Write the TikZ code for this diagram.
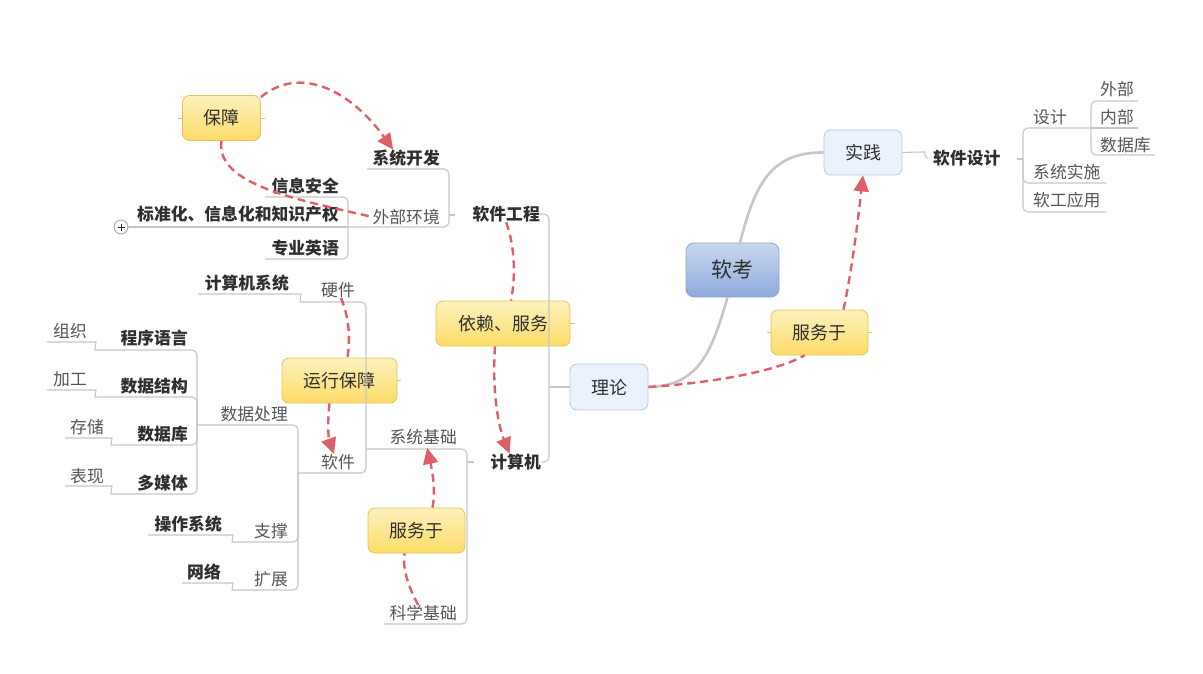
\documentclass[tikz,border=0pt]{standalone}
\usepackage{fontspec}
\setmainfont{Noto Sans CJK SC}
\usetikzlibrary{arrows.meta}
\definecolor{treecol}{HTML}{C6C6C6}
\definecolor{relcol}{HTML}{DE5F68}
\definecolor{ybord}{HTML}{E2C35A}
\definecolor{ytop}{HTML}{FDF2BE}
\definecolor{ybot}{HTML}{FDDB66}
\definecolor{bfill}{HTML}{EAF2FD}
\definecolor{bbord}{HTML}{BEC8D6}
\definecolor{rtop}{HTML}{C8D8F1}
\definecolor{rbot}{HTML}{8DAADC}
\definecolor{rbord}{HTML}{8EA5CC}
\definecolor{txtb}{HTML}{2E2E2E}
\definecolor{txtn}{HTML}{555555}
\tikzset{
 ybox/.style={draw=ybord, line width=0.8pt, top color=ytop, bottom color=ybot, rounded corners=7pt, minimum height=45pt, text=txtb, font=\fontsize{18}{20}\selectfont, inner sep=0pt},
 bbox/.style={draw=bbord, line width=0.8pt, fill=bfill, rounded corners=7pt, minimum width=78pt, minimum height=45pt, text=txtb, font=\fontsize{18}{20}\selectfont, inner sep=0pt},
 rootbox/.style={draw=rbord, line width=0.8pt, top color=rtop, bottom color=rbot, rounded corners=8pt, minimum width=93pt, minimum height=54pt, text=txtb, font=\fontsize{21}{24}\selectfont, inner sep=0pt},
 lbold/.style={inner sep=0pt, text=txtb, font=\fontsize{16.8}{18}\selectfont\bfseries},
 lnorm/.style={inner sep=0pt, text=txtn, font=\fontsize{16.8}{18}\selectfont},
 tree/.style={draw=treecol, line width=1.1pt, rounded corners=5pt},
 rootln/.style={draw=treecol, line width=2.6pt},
 rel/.style={draw=relcol, line width=2.4pt, dash pattern=on 8pt off 5pt},
 relarr/.style={rel, -{Triangle[length=16pt,width=15pt]}},
 ytick/.style={draw=ybord, line width=1pt},
}
\begin{document}
\begin{tikzpicture}[x=1pt,y=-1pt]
\useasboundingbox (0,0) rectangle (1203,673);

% ---------- boxes ----------
\node[rootbox] (root) at (732.5,270) {软考};
\node[bbox] (shijian) at (863,152.5) {实践};
\node[bbox, minimum height=46pt] (lilun) at (609,387) {理论};
\node[ybox, minimum width=78pt] (baozhang) at (221.5,118) {保障};
\node[ybox, minimum width=134pt] (yilai) at (503,323.5) {依赖、服务};
\node[ybox, minimum width=115pt] (yunxing) at (339.5,380.5) {运行保障};
\node[ybox, minimum width=97pt] (fuwuL) at (416.5,530.5) {服务于};
\node[ybox, minimum width=97pt] (fuwuR) at (819.5,332.5) {服务于};

% small ticks on floating boxes
\draw[ytick] (baozhang.west) -- ++(-4,0);
\draw[ytick] (baozhang.east) -- ++(4,0);
\draw[ytick] (yilai.east) -- ++(5,0);
\draw[ytick] (yunxing.east) -- ++(4,0);
\draw[ytick] (fuwuR.west) -- ++(-4,0);
\draw[ytick] (fuwuR.east) -- ++(4,0);

% ---------- labels ----------
\node[lbold, anchor=east] (rjgc) at (540,214) {软件工程};
\node[lbold, anchor=east] (jsj) at (541,462) {计算机};
\node[lbold, anchor=east] (xtkf) at (440,158) {系统开发};
\node[lnorm, anchor=east] (wbhj) at (440,217) {外部环境};
\node[lbold, anchor=east] (xxaq) at (339,186) {信息安全};
\node[lbold, anchor=east] (bzh) at (339,214) {标准化、信息化和知识产权};
\node[lbold, anchor=east] (zyyy) at (339,248) {专业英语};
\node[lnorm, anchor=east] (xtjc) at (457,437) {系统基础};
\node[lnorm, anchor=east] (kxjc) at (457,613) {科学基础};
\node[lnorm, anchor=east] (yj) at (355,290) {硬件};
\node[lnorm, anchor=east] (rj) at (355,462) {软件};
\node[lbold, anchor=east] (jsjxt) at (289,283) {计算机系统};
\node[lnorm, anchor=east] (sjcl) at (288,414) {数据处理};
\node[lnorm, anchor=east] (zc) at (288,531) {支撑};
\node[lnorm, anchor=east] (kz) at (288,579) {扩展};
\node[lbold, anchor=east] (czxt) at (222,524) {操作系统};
\node[lbold, anchor=east] (wl) at (221,572) {网络};
\node[lbold, anchor=east] (cxyy) at (188,338) {程序语言};
\node[lbold, anchor=east] (sjjg) at (188,386) {数据结构};
\node[lbold, anchor=east] (sjkL) at (188,434) {数据库};
\node[lbold, anchor=east] (dmt) at (188,483) {多媒体};
\node[lnorm, anchor=west] (zz) at (53,331) {组织};
\node[lnorm, anchor=west] (jg) at (53,379) {加工};
\node[lnorm, anchor=west] (cc) at (70,427) {存储};
\node[lnorm, anchor=west] (bx) at (70,476) {表现};
\node[lbold, anchor=west] (rjsj) at (933,158) {软件设计};
\node[lnorm, anchor=west] (sj) at (1033,117) {设计};
\node[lnorm, anchor=west] (wb) at (1100,89) {外部};
\node[lnorm, anchor=west] (nb) at (1100,117) {内部};
\node[lnorm, anchor=west] (sjkR) at (1100,145) {数据库};
\node[lnorm, anchor=west] (xtss) at (1033,172) {系统实施};
\node[lnorm, anchor=west] (rgyy) at (1033,200) {软工应用};
\node[circle, draw=treecol!85!black, fill=white, line width=0.9pt, minimum size=14pt, inner sep=0pt] (plus) at (121,227) {};
\draw[draw=txtb, line width=1pt] ([xshift=-3.5pt]plus.center) -- ([xshift=3.5pt]plus.center);
\draw[draw=txtb, line width=1pt] ([yshift=-3.5pt]plus.center) -- ([yshift=3.5pt]plus.center);

% ---------- junction coordinates ----------
\coordinate (jL) at (549,387);
\coordinate (jRt) at (455,215);
\coordinate (jR) at (449,215);
\coordinate (u-xtkf) at (367,169);
\coordinate (j-wbhj) at (348,227);
\coordinate (u-xxaq) at (265,197);
\coordinate (u-zyyy) at (265,259);
\coordinate (t-jsj) at (474,462);
\coordinate (j-jsj) at (467,462);
\coordinate (j-xtjc) at (366,449);
\coordinate (u-kxjc) at (384,624);
\coordinate (h-yj) at (305,302);
\coordinate (u-jsjxt) at (198,294);
\coordinate (j-rj) at (298,473);
\coordinate (j-sjcl) at (197,425);
\coordinate (h-zc) at (237,542);
\coordinate (u-czxt) at (148,535);
\coordinate (h-kz) at (237,590);
\coordinate (u-wl) at (182,583);
\coordinate (h-cxyy) at (100,350);
\coordinate (u-zz) at (47,342);
\coordinate (h-sjjg) at (100,397);
\coordinate (u-jg) at (47,390);
\coordinate (h-sjk) at (116,445);
\coordinate (u-cc) at (65,438);
\coordinate (h-dmt) at (116,494);
\coordinate (u-bx) at (65,486);
\coordinate (h-sjp) at (920,152);
\coordinate (e-sjp) at (928,158);
\coordinate (t-rjsj) at (1017,159);
\coordinate (j-rjsj) at (1023,159);
\coordinate (j-sj) at (1091,128);
\coordinate (u-xtss) at (1106,183);
\coordinate (u-rgyy) at (1106,212);
\coordinate (u-wb) at (1138,101);
\coordinate (u-nb) at (1138,128);
\coordinate (u-sjk) at (1155,155);

% ---------- root curves ----------
\draw[rootln] ([xshift=7.5pt]root.north) .. controls (755,185) and (770,152) .. (shijian.west);
\draw[rootln] ([xshift=-5pt]root.south) .. controls (712,350) and (700,386) .. (lilun.east);

% ---------- tree lines ----------
\draw[tree] (lilun.west) -- (jL);
\draw[tree] (jL) |- (rjgc.east);
\draw[tree] (jL) |- (jsj.east);
% 软件工程
\draw[tree] (jRt) -- (jR);
\draw[tree] (jR) |- (u-xtkf);
\draw[tree] (jR) |- (j-wbhj);
\draw[tree] (j-wbhj) |- (u-xxaq);
\draw[tree] (j-wbhj) -- (plus.east);
\draw[tree] (j-wbhj) |- (u-zyyy);
% 计算机
\draw[tree] (t-jsj) -- (j-jsj);
\draw[tree] (j-jsj) |- (j-xtjc);
\draw[tree] (j-jsj) |- (u-kxjc);
\draw[tree] (j-xtjc) |- (h-yj) .. controls +(-5,0) and +(5,0) .. ++(-9,-8) -- (u-jsjxt);
\draw[tree] (j-xtjc) |- (j-rj);
\draw[tree] (j-rj) |- (j-sjcl);
\draw[tree] (j-rj) |- (h-zc) .. controls +(-5,0) and +(5,0) .. ++(-9,-7) -- (u-czxt);
\draw[tree] (j-rj) |- (h-kz) .. controls +(-5,0) and +(5,0) .. ++(-9,-7) -- (u-wl);
\draw[tree] (j-sjcl) |- (h-cxyy) .. controls +(-5,0) and +(5,0) .. ++(-9,-8) -- (u-zz);
\draw[tree] (j-sjcl) |- (h-sjjg) .. controls +(-5,0) and +(5,0) .. ++(-9,-7) -- (u-jg);
\draw[tree] (j-sjcl) |- (h-sjk) .. controls +(-5,0) and +(5,0) .. ++(-9,-7) -- (u-cc);
\draw[tree] (j-sjcl) |- (h-dmt) .. controls +(-5,0) and +(5,0) .. ++(-9,-8) -- (u-bx);
% 实践
\draw[tree] (shijian.east) -- (h-sjp) .. controls +(5,0) and +(-4,0) .. (e-sjp);
\draw[tree] (t-rjsj) -- (j-rjsj);
\draw[tree] (j-rjsj) |- (j-sj);
\draw[tree] (j-rjsj) |- (u-xtss);
\draw[tree] (j-rjsj) |- (u-rgyy);
\draw[tree] (j-sj) |- (u-wb);
\draw[tree] (j-sj) -- (u-nb);
\draw[tree] (j-sj) |- (u-sjk);

% ---------- relations ----------
\draw[relarr] (baozhang.28) .. controls (300,65) and (350,90) .. ([xshift=-13pt]xtkf.north);
\draw[rel] (baozhang.south) .. controls (215,185) and (300,200) .. (wbhj.west);

\draw[rel] (rjgc.south) .. controls (516,250) and (515,280) .. ([xshift=8pt]yilai.north);
\draw[relarr] ([xshift=-8pt]yilai.south) .. controls (492,390) and (498,425) .. ([xshift=-6pt]jsj.north);

\draw[rel] ([xshift=3pt]yj.south) .. controls (350,320) and (350,340) .. ([xshift=8pt]yunxing.north);
\draw[relarr] ([xshift=-10pt]yunxing.south) .. controls (327,425) and (329,440) .. ([xshift=-4pt]rj.north);

\draw[rel] ([xshift=-5pt]kxjc.north) .. controls (410,590) and (402,570) .. ([xshift=-12pt]fuwuL.south);
\draw[relarr] ([xshift=16pt]fuwuL.north) .. controls (436,490) and (432,470) .. ([xshift=4pt,yshift=-3pt]xtjc.south);

\draw[rel] (lilun.east) .. controls (710,383) and (775,372) .. ([xshift=-15pt]fuwuR.south);
\draw[relarr] ([xshift=24pt]fuwuR.north) .. controls (852,270) and (858,220) .. (shijian.south);
\end{tikzpicture}
\end{document}
